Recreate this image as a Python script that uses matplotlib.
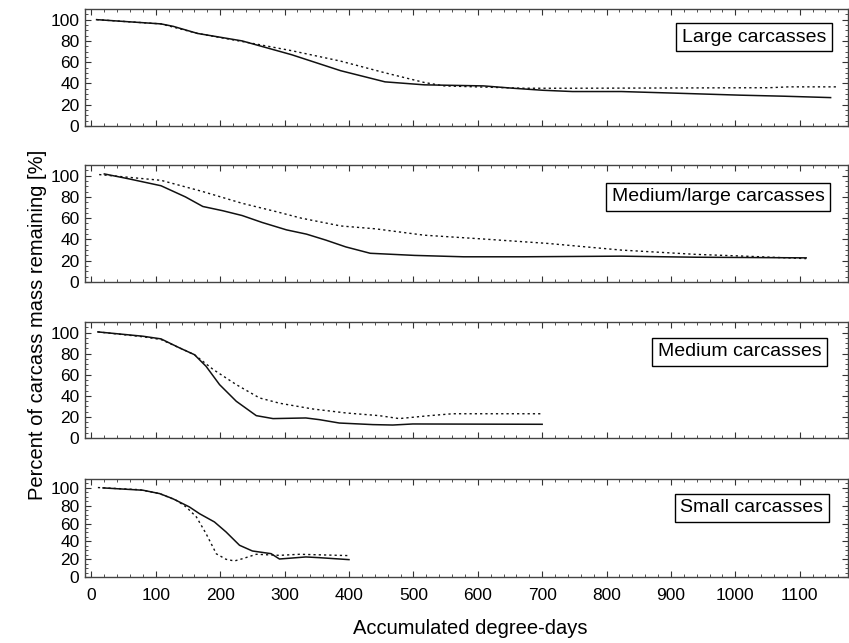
import matplotlib
matplotlib.use("Agg")
import matplotlib.pyplot as plt
from matplotlib.ticker import MultipleLocator

plt.rcParams['font.family'] = ['Liberation Sans', 'DejaVu Sans']

# ---- data ----
large_solid_x = [8, 108, 127, 165, 234, 311, 387, 456, 517, 609, 655, 701, 747, 823, 900, 1007, 1076, 1148]
large_solid_y = [100, 96, 93.7, 87, 80, 67, 52, 41.5, 38.7, 37.7, 35.5, 33.6, 32.4, 32.4, 31, 29, 28, 26.7]
large_dash_x = [8, 108, 165, 242, 311, 387, 456, 517, 548, 670, 747, 1053, 1083, 1160]
large_dash_y = [100, 96, 87, 78.6, 70.8, 61, 50, 40.9, 37.7, 35.5, 35.5, 36, 36.8, 36.8]

medl_solid_x = [20, 58, 108, 146, 173, 204, 234, 265, 303, 334, 364, 395, 433, 502, 578, 670, 823, 938, 1110]
medl_solid_y = [101.6, 97, 90.5, 80, 71, 67, 62.5, 56, 49, 45, 39.4, 33, 27, 25, 23.7, 23.7, 24.3, 23.3, 22.7]
medl_dash_x = [12, 108, 173, 234, 288, 326, 387, 441, 517, 609, 708, 823, 938, 1014, 1110]
medl_dash_y = [101, 95.6, 85, 74, 66, 60, 52.7, 50, 44, 40.4, 36.3, 30, 26, 24.3, 22]

med_solid_x = [10, 80, 108, 137, 160, 178, 199, 225, 256, 282, 333, 354, 385, 437, 468, 499, 700]
med_solid_y = [100.6, 96.5, 94, 85.4, 79, 68, 50.6, 34.8, 21.2, 18.4, 19, 17.4, 14.2, 12.7, 12.3, 13.3, 13]
med_dash_x = [10, 80, 108, 137, 160, 189, 225, 261, 292, 344, 396, 447, 478, 525, 561, 700]
med_dash_y = [100.6, 96, 93.4, 85.4, 79, 65, 50.6, 38, 33, 27.5, 23.7, 21.2, 18.4, 21.2, 23, 23]

small_solid_x = [18, 80, 106, 126, 152, 168, 191, 209, 230, 250, 279, 292, 333, 354, 400]
small_solid_y = [100, 97.4, 93.6, 88, 78.7, 71, 61.8, 50.6, 35.6, 29.2, 26.2, 20.2, 22.5, 21.7, 19.5]
small_dash_x = [10, 75, 106, 132, 147, 163, 178, 194, 209, 222, 235, 256, 292, 323, 400]
small_dash_y = [100.4, 98, 93.6, 86, 78.7, 67.4, 48.7, 26, 19.9, 18, 20.6, 25.5, 24.3, 25.5, 24]

labels = ["Large carcasses", "Medium/large carcasses", "Medium carcasses", "Small carcasses"]
x_ticks = list(range(0, 1101, 100))
y_ticks = [0, 20, 40, 60, 80, 100]

series = [
    (large_solid_x, large_solid_y, large_dash_x, large_dash_y),
    (medl_solid_x, medl_solid_y, medl_dash_x, medl_dash_y),
    (med_solid_x, med_solid_y, med_dash_x, med_dash_y),
    (small_solid_x, small_solid_y, small_dash_x, small_dash_y),
]

W, H = 849, 643
fig = plt.figure(figsize=(W / 100, H / 100), dpi=100)

left, right = 85, 848
panels = [(9, 126), (165, 282), (322, 438), (479, 577)]
label_pos = [(754, 37), (718, 197), (739.5, 352), (752, 508)]

for i, ((top, bot), (sx, sy, dx, dy), lab, (lx, ly)) in enumerate(zip(panels, series, labels, label_pos)):
    ax = fig.add_axes([left / W, 1 - bot / H, (right - left) / W, (bot - top) / H])
    ax.plot(sx, sy, color='#111111', lw=1.1, solid_joinstyle='round')
    ax.plot(dx, dy, color='#111111', lw=1.0, linestyle=(0, (1.6, 2.2)))
    ax.set_xlim(-10, 1175)
    ax.set_ylim(0, 110)
    ax.set_xticks(x_ticks)
    ax.set_yticks(y_ticks)
    ax.xaxis.set_minor_locator(MultipleLocator(20))
    ax.yaxis.set_minor_locator(MultipleLocator(5))
    ax.tick_params(which='both', direction='in', top=True, right=True, colors='#333333',
                   labelcolor='black', labelsize=12.5)
    ax.tick_params(which='major', length=4, width=0.8)
    ax.tick_params(which='minor', length=2, width=0.6)
    ax.tick_params(axis='y', pad=4)
    ax.tick_params(axis='x', pad=8)
    if i < 3:
        ax.tick_params(axis='x', labelbottom=False)
    for s in ax.spines.values():
        s.set_color('#444444')
        s.set_linewidth(1.0)
    ax.text((lx - left) / (right - left), (bot - ly) / (bot - top), lab,
            transform=ax.transAxes, ha='center', va='center', fontsize=14,
            bbox=dict(boxstyle='square,pad=0.3', facecolor='white', edgecolor='black', lw=1.0))

fig.text(470 / W, 1 - 628 / H, "Accumulated degree-days", ha='center', va='center', fontsize=14.5)
fig.text(38 / W, 1 - 325 / H, "Percent of carcass mass remaining [%]", ha='center', va='center',
         rotation=90, fontsize=14.5)

fig.savefig("out.png", dpi=100)
